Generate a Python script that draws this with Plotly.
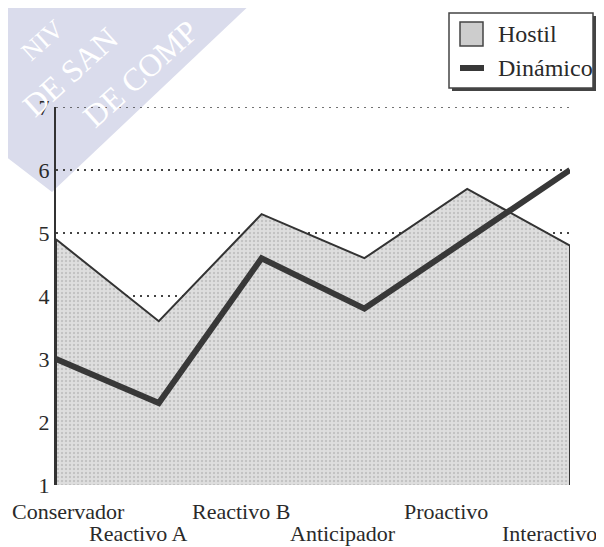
import plotly.graph_objects as go

categories = ["Conservador", "Reactivo A", "Reactivo B", "Anticipador", "Proactivo", "Interactivo"]
hostil = [4.9, 3.6, 5.3, 4.6, 5.7, 4.8]
dinamico = [3.0, 2.3, 4.6, 3.8, 4.9, 6.0]
y_ticks = [1, 2, 3, 4, 5, 6, 7]
Y_MIN, Y_MAX = 1, 7

OFF = 8  # page body margin
W, H = 604 - OFF, 547 - OFF
L, R, T, B = 56 - OFF, 34, 107 - OFF, 62
PW, PH = W - L - R, H - T - B

def px(x):
    return (x - OFF - L) / PW

def py(y):
    return (H - B - (y - OFF)) / PH

FONT = "Liberation Serif"
DARK = "#333333"
GRID = "#444444"
GRID_DASH = "2px,5px"

idx = list(range(len(categories)))

fig = go.Figure()
fig.add_trace(go.Scatter(
    x=[idx[0]] + idx + [idx[-1]],
    y=[Y_MIN] + hostil + [Y_MIN],
    mode="lines", fill="toself", name="Hostil",
    line=dict(color=DARK, width=2),
    fillcolor="#d6d6d6",
    fillpattern=dict(shape=".", bgcolor="#dedede", fgcolor="#a8a8a8", size=4, solidity=0.28),
    showlegend=False, hoverinfo="skip",
))
fig.add_trace(go.Scatter(
    x=idx, y=dinamico, mode="lines", name="Dinámico",
    line=dict(color="#383838", width=6), showlegend=False,
))

shapes = []
annotations = []

# top gridline (at the range edge, which plotly omits)
shapes.append(dict(type="line", xref="x", yref="y", x0=idx[0], x1=idx[-1],
                   y0=Y_MAX, y1=Y_MAX, layer="below",
                   line=dict(color=GRID, width=1.5, dash=GRID_DASH)))

# watermark (scan stamp)
wm = [(0, 0), (255, 0), (52, 192), (0, 152)]
path = "M " + " L ".join(f"{px(a):.4f},{py(b):.4f}" for a, b in wm) + " Z"
shapes.append(dict(type="path", xref="paper", yref="paper", path=path,
                   fillcolor="#dadcec", line=dict(width=0), layer="below"))
for txt, cx, cy, sz in [("NIV", 42, 40, 26), ("DE SAN", 70, 72, 32), ("DE COMP", 140, 74, 32)]:
    annotations.append(dict(text=txt, x=px(cx), y=py(cy), xref="paper", yref="paper",
                            xanchor="center", yanchor="middle",
                            showarrow=False, textangle=-42,
                            font=dict(family=FONT, size=sz, color="white")))

# legend box (manual) with shadow
shapes.append(dict(type="rect", xref="paper", yref="paper",
                   x0=px(452), x1=px(596), y0=py(16), y1=py(91),
                   fillcolor="#444", line=dict(width=0)))
shapes.append(dict(type="rect", xref="paper", yref="paper",
                   x0=px(449), x1=px(593), y0=py(13), y1=py(88),
                   fillcolor="white", line=dict(color="#444", width=1.5)))
shapes.append(dict(type="rect", xref="paper", yref="paper",
                   x0=px(460), x1=px(483), y0=py(22), y1=py(46),
                   fillcolor="#cdcdcd", line=dict(color="#444", width=1.5)))
shapes.append(dict(type="line", xref="paper", yref="paper",
                   x0=px(460), x1=px(484), y0=py(68), y1=py(68),
                   line=dict(color="#383838", width=6)))
for name, yy in [("Hostil", 34), ("Dinámico", 68)]:
    annotations.append(dict(text=name, x=px(496), y=py(yy), xref="paper", yref="paper",
                            xanchor="left", yanchor="middle", showarrow=False,
                            font=dict(family=FONT, size=24, color="#2a2a2a")))

# staggered category labels
for i, c in enumerate(categories):
    row = i % 2
    shift = 12 if i == 0 else -21
    annotations.append(dict(text=c, x=i, y=0, xref="x", yref="paper",
                            xanchor="center", yanchor="middle", showarrow=False,
                            xshift=shift, yshift=-26 - 22 * row,
                            font=dict(family=FONT, size=22, color="#2a2a2a")))

fig.update_layout(
    width=W, height=H,
    margin=dict(l=L, r=R, t=T, b=B),
    paper_bgcolor="white", plot_bgcolor="white",
    font=dict(family=FONT, size=22, color="#2a2a2a"),
    xaxis=dict(range=[idx[0], idx[-1]], showgrid=False, zeroline=False,
               showticklabels=False, showline=False, fixedrange=True),
    yaxis=dict(range=[Y_MIN, Y_MAX], tickvals=y_ticks, ticktext=[str(v) for v in y_ticks],
               showgrid=True, gridcolor=GRID, griddash=GRID_DASH, gridwidth=1.5,
               zeroline=False, showline=True, linecolor=DARK, linewidth=2,
               ticks="", tickfont=dict(family=FONT, size=22, color="#2a2a2a")),
    shapes=shapes, annotations=annotations, showlegend=False,
)

fig.write_html("out.html")
